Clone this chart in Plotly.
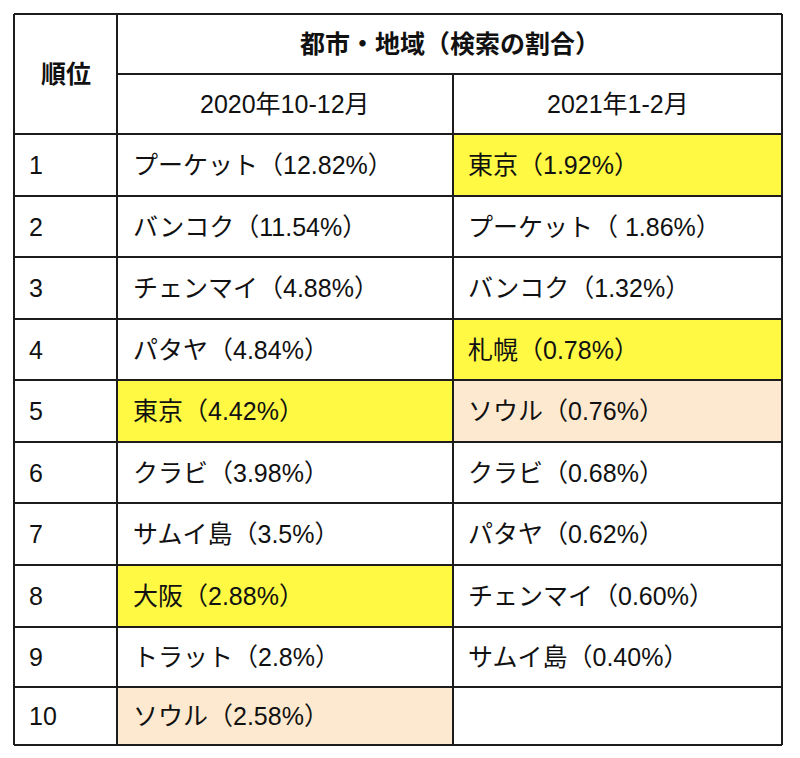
import plotly.graph_objects as go

# ---- data ----
rank_labels = ["1", "2", "3", "4", "5", "6", "7", "8", "9", "10"]
period_2020 = ["プーケット（12.82%）", "バンコク（11.54%）", "チェンマイ（4.88%）", "パタヤ（4.84%）",
               "東京（4.42%）", "クラビ（3.98%）", "サムイ島（3.5%）", "大阪（2.88%）",
               "トラット（2.8%）", "ソウル（2.58%）"]
period_2021 = ["東京（1.92%）", "プーケット（ 1.86%）", "バンコク（1.32%）", "札幌（0.78%）",
               "ソウル（0.76%）", "クラビ（0.68%）", "パタヤ（0.62%）", "チェンマイ（0.60%）",
               "サムイ島（0.40%）", ""]
header_rank = "順位"
header_group = "都市・地域（検索の割合）"
header_periods = ["2020年10-12月", "2021年1-2月"]
japan_cities = ["東京", "札幌", "大阪"]
korea_cities = ["ソウル"]

# ---- layout / style ----
W, H = 800, 758
OFF = 8  # page body margin
col_edges = [14, 117, 453, 782]
row_edges = [14, 74, 134, 196, 257, 319, 380, 442, 503, 565, 627, 687, 745]
YELLOW = "#FFF944"
PEACH = "#FDE9CF"
LINE = "#1c1c1c"
FONT = "Liberation Sans, Noto Sans CJK JP, sans-serif"
FS = 25

fig = go.Figure()
shapes = []
annotations = []


def fill_for(text):
    for c in japan_cities:
        if text.startswith(c):
            return YELLOW
    for c in korea_cities:
        if text.startswith(c):
            return PEACH
    return None


def rect(x0, y0, x1, y1, color):
    shapes.append(dict(type="rect", xref="x", yref="y", x0=x0, y0=y0, x1=x1, y1=y1,
                       fillcolor=color, line=dict(width=0), layer="below"))


def line(x0, y0, x1, y1):
    shapes.append(dict(type="line", xref="x", yref="y", x0=x0, y0=y0, x1=x1, y1=y1,
                       line=dict(color=LINE, width=2)))


def text(x, y, s, anchor="left", weight="normal"):
    annotations.append(dict(x=x, y=y, xref="x", yref="y", text=s, showarrow=False,
                            xanchor=anchor, yanchor="middle",
                            font=dict(family=FONT, size=FS, color="#111111", weight=weight)))


# fills
data_top = row_edges[2:]
for i in range(len(rank_labels)):
    y0, y1 = data_top[i], data_top[i + 1]
    for j, col in enumerate([period_2020, period_2021]):
        c = fill_for(col[i])
        if c:
            rect(col_edges[j + 1], y0, col_edges[j + 2], y1, c)

# headers
text((col_edges[0] + col_edges[1]) / 2, (row_edges[0] + row_edges[2]) / 2, header_rank, "center", 600)
text((col_edges[1] + col_edges[3]) / 2, (row_edges[0] + row_edges[1]) / 2, header_group, "center", 600)
for j, h in enumerate(header_periods):
    text((col_edges[j + 1] + col_edges[j + 2]) / 2, (row_edges[1] + row_edges[2]) / 2, h, "center")

# data cells
for i in range(len(rank_labels)):
    yc = (data_top[i] + data_top[i + 1]) / 2
    text(col_edges[0] + 13, yc, rank_labels[i])
    if period_2020[i]:
        text(col_edges[1] + 14, yc, period_2020[i])
    if period_2021[i]:
        text(col_edges[2] + 13, yc, period_2021[i])

# grid lines
line(col_edges[0], row_edges[0], col_edges[3], row_edges[0])
line(col_edges[1], row_edges[1], col_edges[3], row_edges[1])
for y in row_edges[2:]:
    line(col_edges[0], y, col_edges[3], y)
line(col_edges[0], row_edges[0], col_edges[0], row_edges[-1])
line(col_edges[1], row_edges[0], col_edges[1], row_edges[-1])
line(col_edges[2], row_edges[1], col_edges[2], row_edges[-1])
line(col_edges[3], row_edges[0], col_edges[3], row_edges[-1])

fig.update_layout(
    width=W - OFF, height=H - OFF,
    margin=dict(l=0, r=0, t=0, b=0),
    paper_bgcolor="white", plot_bgcolor="white",
    xaxis=dict(range=[OFF, W], visible=False, fixedrange=True),
    yaxis=dict(range=[H, OFF], visible=False, fixedrange=True),
    shapes=shapes, annotations=annotations, showlegend=False,
)
fig.write_html("out.html")
